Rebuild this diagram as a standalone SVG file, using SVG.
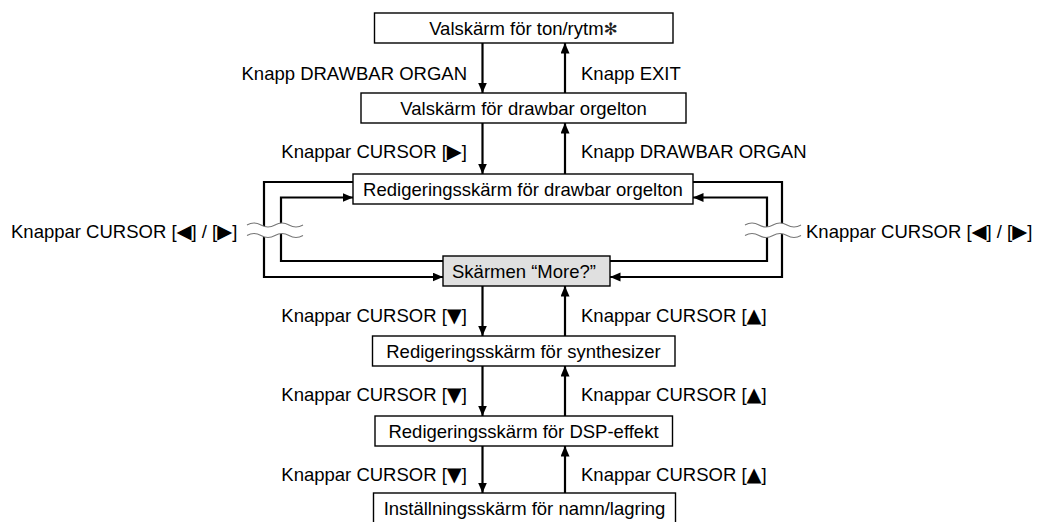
<svg xmlns="http://www.w3.org/2000/svg" width="1039" height="522" viewBox="0 0 1039 522">
  <style>
    .box { fill: #ffffff; stroke: #000000; stroke-width: 1.4; }
    .box.grey { fill: #e0e0e0; }
    .t { font-family: "Liberation Sans", "DejaVu Sans", sans-serif; font-size: 18.5px; fill: #000000; }
    .sym { font-family: "DejaVu Sans", sans-serif; font-size: 19.5px; }
    .ast { font-family: "DejaVu Sans", sans-serif; font-size: 17px; fill: #222222; }
    .c { text-anchor: middle; }
    .e { text-anchor: end; }
    .line { fill: none; stroke: #000000; stroke-width: 2.2; }
    .arrow { marker-end: url(#head); }
    .wave { fill: none; stroke: #777777; stroke-width: 1.1; }
    .gap { fill: #ffffff; stroke: none; }
  </style>
  <defs>
    <marker id="head" markerUnits="userSpaceOnUse" markerWidth="11" markerHeight="10" refX="10.5" refY="4.5" orient="auto">
      <path d="M0,0 L10.5,4.5 L0,9 Z" fill="#000000"/>
    </marker>
  </defs>

  <rect width="1039" height="522" fill="#ffffff"/>

  <!-- connectors -->
  <g id="connectors">
    <!-- vertical chain -->
    <line class="line arrow" x1="482.5" y1="43" x2="482.5" y2="93"/>
    <line class="line arrow" x1="565" y1="93" x2="565" y2="43"/>
    <line class="line arrow" x1="482.5" y1="123" x2="482.5" y2="174"/>
    <line class="line arrow" x1="565" y1="174" x2="565" y2="123"/>
    <line class="line arrow" x1="482.5" y1="286" x2="482.5" y2="336"/>
    <line class="line arrow" x1="565" y1="336" x2="565" y2="286"/>
    <line class="line arrow" x1="482.5" y1="366" x2="482.5" y2="416"/>
    <line class="line arrow" x1="565" y1="416" x2="565" y2="366"/>
    <line class="line arrow" x1="482.5" y1="446" x2="482.5" y2="493"/>
    <line class="line arrow" x1="565" y1="493" x2="565" y2="446"/>

    <!-- left loop -->
    <polyline class="line arrow" points="353,182 264,182 264,277 443,277"/>
    <polyline class="line arrow" points="443,261 281,261 281,197.5 353,197.5"/>
    <!-- right loop -->
    <polyline class="line arrow" points="693,182 782,182 782,277 610,277"/>
    <polyline class="line arrow" points="610,261 767,261 767,197.5 693,197.5"/>

    <!-- break marks -->
    <path class="gap" d="M247,225 q7,-4 14,0 t14,0 t14,0 t14,0 L303,235.5 q-7,4 -14,0 t-14,0 t-14,0 t-14,0 Z"/>
    <path class="wave" d="M247,225 q7,-4 14,0 t14,0 t14,0 t14,0"/>
    <path class="wave" d="M247,235.5 q7,-4 14,0 t14,0 t14,0 t14,0"/>
    <path class="gap" d="M745,225 q7,-4 14,0 t14,0 t14,0 t14,0 L801,235.5 q-7,4 -14,0 t-14,0 t-14,0 t-14,0 Z"/>
    <path class="wave" d="M745,225 q7,-4 14,0 t14,0 t14,0 t14,0"/>
    <path class="wave" d="M745,235.5 q7,-4 14,0 t14,0 t14,0 t14,0"/>
  </g>

  <!-- connector labels -->
  <g id="labels">
    <text class="t e" x="467" y="80">Knapp DRAWBAR ORGAN</text>
    <text class="t" x="581" y="80">Knapp EXIT</text>
    <text class="t e" x="467" y="158">Knappar CURSOR [<tspan class="sym">▶</tspan>]</text>
    <text class="t" x="581" y="158">Knapp DRAWBAR ORGAN</text>
    <text class="t" x="11" y="238">Knappar CURSOR [<tspan class="sym">◀</tspan>] / [<tspan class="sym">▶</tspan>]</text>
    <text class="t" x="806" y="238">Knappar CURSOR [<tspan class="sym">◀</tspan>] / [<tspan class="sym">▶</tspan>]</text>
    <text class="t e" x="467" y="322">Knappar CURSOR [<tspan class="sym">▼</tspan>]</text>
    <text class="t" x="581" y="322">Knappar CURSOR [<tspan class="sym">▲</tspan>]</text>
    <text class="t e" x="467" y="401">Knappar CURSOR [<tspan class="sym">▼</tspan>]</text>
    <text class="t" x="581" y="401">Knappar CURSOR [<tspan class="sym">▲</tspan>]</text>
    <text class="t e" x="467" y="481">Knappar CURSOR [<tspan class="sym">▼</tspan>]</text>
    <text class="t" x="581" y="481">Knappar CURSOR [<tspan class="sym">▲</tspan>]</text>
  </g>

  <!-- nodes -->
  <g id="node-tone-select">
    <rect class="box" x="374.5" y="13" width="298.5" height="30"/>
    <text class="t c" x="523.5" y="34.5">Valskärm för ton/rytm<tspan class="ast">✻</tspan></text>
  </g>
  <g id="node-drawbar-select">
    <rect class="box" x="361" y="93" width="325" height="30"/>
    <text class="t c" x="523.5" y="114.5">Valskärm för drawbar orgelton</text>
  </g>
  <g id="node-drawbar-edit">
    <rect class="box" x="353" y="174" width="340" height="30"/>
    <text class="t c" x="523" y="195.5">Redigeringsskärm för drawbar orgelton</text>
  </g>
  <g id="node-more">
    <rect class="box grey" x="443" y="256" width="167" height="30"/>
    <text class="t c" x="524" y="277.5">Skärmen “More?”</text>
  </g>
  <g id="node-synth-edit">
    <rect class="box" x="372.5" y="336" width="302.5" height="30"/>
    <text class="t c" x="523.5" y="357.5">Redigeringsskärm för synthesizer</text>
  </g>
  <g id="node-dsp-edit">
    <rect class="box" x="375" y="416" width="297.5" height="30"/>
    <text class="t c" x="523.5" y="437.5">Redigeringsskärm för DSP-effekt</text>
  </g>
  <g id="node-name-store">
    <rect class="box" x="373.5" y="493" width="302" height="30"/>
    <text class="t c" x="524.5" y="514.5">Inställningsskärm för namn/lagring</text>
  </g>
</svg>
